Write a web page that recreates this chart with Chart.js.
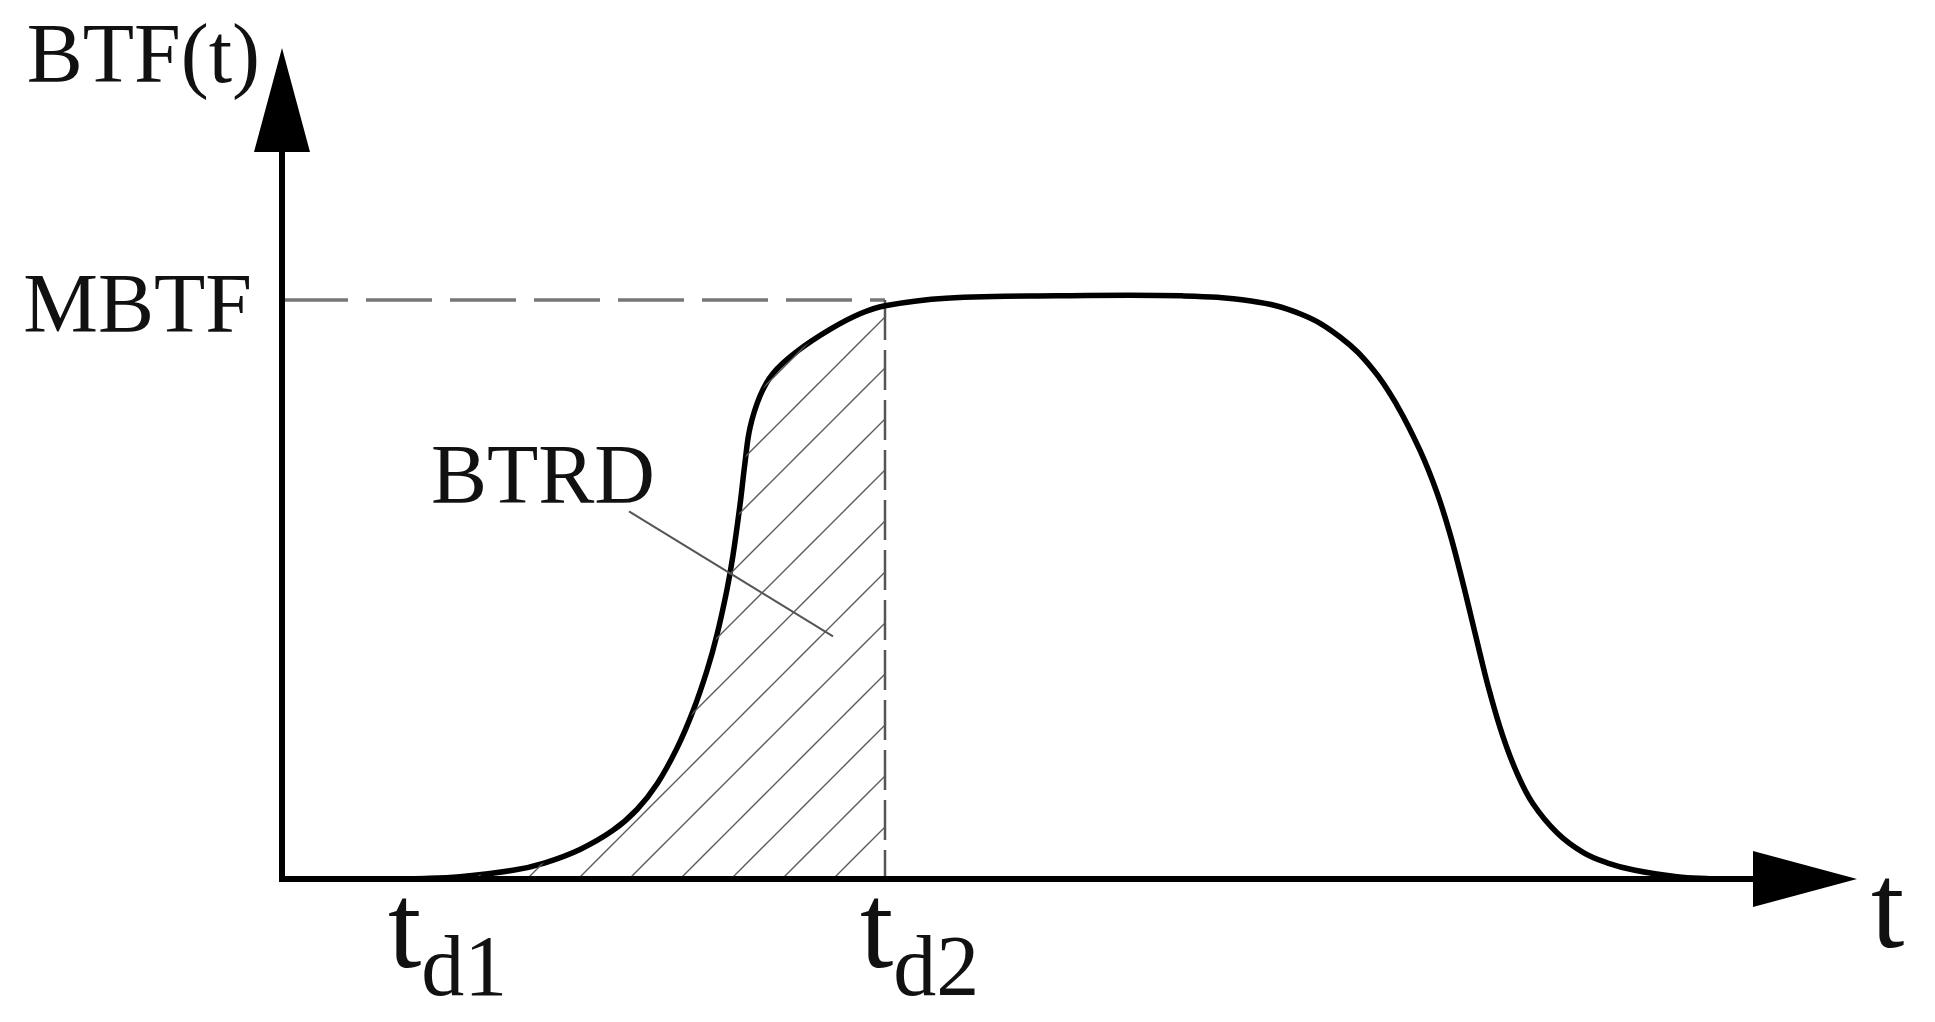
<!DOCTYPE html>
<html>
<head>
<meta charset="utf-8">
<script src="https://cdn.jsdelivr.net/npm/chart.js@4.4.1/dist/chart.umd.min.js"></script>
<style>
  html, body { margin: 0; padding: 0; background: #ffffff; }
</style>
</head>
<body>
<canvas id="btfChart" width="1935" height="1022"></canvas>
<script>
// Time axis in arbitrary units, BTF normalised so that MBTF = 1
const tValues = [1.30, 1.78, 2.31, 2.63, 2.98, 3.31, 3.55, 3.75, 3.95, 4.11, 4.25, 4.35, 4.45, 4.51, 4.58, 4.63, 4.68, 4.78, 4.91,
  5.15, 5.48, 5.78, 6.03, 6.64, 7.76, 9.00, 9.69, 10.18, 10.58, 10.91, 11.15, 11.38, 11.55, 11.68, 11.78, 11.88, 11.98,
  12.08, 12.21, 12.35, 12.51, 12.75, 13.01, 13.25, 13.53, 13.95, 14.30];
const btfValues = [0, 0.004, 0.015, 0.028, 0.051, 0.084, 0.120, 0.164, 0.226, 0.290, 0.360, 0.422, 0.500, 0.559, 0.646, 0.719, 0.779, 0.834, 0.873,
  0.911, 0.949, 0.976, 0.990, 1.003, 1.007, 1.007, 0.998, 0.976, 0.936, 0.880, 0.818, 0.740, 0.667, 0.596, 0.531, 0.461, 0.389,
  0.321, 0.246, 0.183, 0.130, 0.080, 0.046, 0.028, 0.015, 0.004, 0];

const MBTF = 1;
const td1 = 1.31;
const td2 = 6.03;
const tMax = 15.75;
const yMax = 1.435;

// "BTRD" callout (label anchor + leader line ends, in data units)
const btrdLabel = [1.49, 0.649];
const btrdLeaderFrom = [3.47, 0.635];
const btrdLeaderTo = [5.51, 0.419];

const curvePoints = tValues.map((t, i) => ({ x: t, y: btfValues[i] }));
const hatchPoints = curvePoints.filter((p) => p.x <= td2);

const SERIF = '"Liberation Serif", "Times New Roman", serif';

// 45 degree hatch used for the BTRD area
function makeHatch(ctx) {
  const size = 51;
  const c = document.createElement("canvas");
  c.width = size;
  c.height = size;
  const g = c.getContext("2d");
  g.strokeStyle = "#5a5a5a";
  g.lineWidth = 1.4;
  g.beginPath();
  g.moveTo(-3, size + 3);
  g.lineTo(size + 3, -3);
  g.moveTo(-3, 3);
  g.lineTo(3, -3);
  g.moveTo(size - 3, size + 3);
  g.lineTo(size + 3, size - 3);
  g.stroke();
  const p = ctx.createPattern(c, "repeat");
  p.setTransform(new DOMMatrix().translate(29, 0));
  return p;
}

// dashed guide lines, drawn under the curve
const guidePlugin = {
  id: "guides",
  beforeDatasetsDraw(chart) {
    const { ctx, scales: { x, y } } = chart;
    const x0 = x.getPixelForValue(0);
    const xd2 = x.getPixelForValue(td2);
    const yM = y.getPixelForValue(MBTF);
    const y0 = y.getPixelForValue(0);
    ctx.save();
    ctx.strokeStyle = "#777777";
    ctx.lineWidth = 3.5;
    ctx.setLineDash([66, 18]);
    ctx.beginPath();
    ctx.moveTo(x0, yM);
    ctx.lineTo(xd2, yM);
    ctx.stroke();
    ctx.strokeStyle = "#555555";
    ctx.lineWidth = 2.5;
    ctx.setLineDash([40, 10]);
    ctx.beginPath();
    ctx.moveTo(xd2, yM);
    ctx.lineTo(xd2, y0);
    ctx.stroke();
    ctx.restore();
  },
};

// axes with arrow heads and all labels
const axesPlugin = {
  id: "arrowAxes",
  afterDatasetsDraw(chart) {
    const { ctx, chartArea, scales: { x, y } } = chart;
    const x0 = x.getPixelForValue(0);
    const y0 = y.getPixelForValue(0);
    const xEnd = chartArea.right;
    const yEnd = chartArea.top;
    const head = 104;
    const half = 28;

    ctx.save();
    ctx.fillStyle = "#000";
    ctx.strokeStyle = "#000";
    ctx.lineWidth = 6;
    ctx.setLineDash([]);
    ctx.beginPath();
    ctx.moveTo(x0, y0 + 3);
    ctx.lineTo(x0, yEnd + head);
    ctx.moveTo(x0 - 3, y0);
    ctx.lineTo(xEnd - head, y0);
    ctx.stroke();

    ctx.beginPath();
    ctx.moveTo(x0, yEnd);
    ctx.lineTo(x0 - half, yEnd + head);
    ctx.lineTo(x0 + half, yEnd + head);
    ctx.closePath();
    ctx.fill();
    ctx.beginPath();
    ctx.moveTo(xEnd, y0);
    ctx.lineTo(xEnd - head, y0 - half);
    ctx.lineTo(xEnd - head, y0 + half);
    ctx.closePath();
    ctx.fill();

    // BTRD leader line
    ctx.strokeStyle = "#555";
    ctx.lineWidth = 2;
    ctx.beginPath();
    ctx.moveTo(x.getPixelForValue(btrdLeaderFrom[0]), y.getPixelForValue(btrdLeaderFrom[1]));
    ctx.lineTo(x.getPixelForValue(btrdLeaderTo[0]), y.getPixelForValue(btrdLeaderTo[1]));
    ctx.stroke();

    ctx.fillStyle = "#111";
    ctx.textBaseline = "alphabetic";
    ctx.font = "84px " + SERIF;
    ctx.textAlign = "right";
    ctx.fillText("BTF(t)", x0 - 22, yEnd + 34);
    ctx.fillText("MBTF", x0 - 30, y.getPixelForValue(MBTF) + 32);
    ctx.textAlign = "left";
    ctx.fillText("BTRD", x.getPixelForValue(btrdLabel[0]), y.getPixelForValue(btrdLabel[1]));

    // t with subscript under the axis
    function subLabel(sub, px) {
      ctx.font = "120px " + SERIF;
      ctx.fillText("t", px - 25, y0 + 88);
      const w = ctx.measureText("t").width;
      ctx.font = "86px " + SERIF;
      ctx.fillText(sub, px - 25 + w, y0 + 116);
    }
    subLabel("d1", x.getPixelForValue(td1));
    subLabel("d2", x.getPixelForValue(td2));

    ctx.font = "120px " + SERIF;
    ctx.fillText("t", xEnd + 14, y0 + 68);
    ctx.restore();
  },
};

const ctx = document.getElementById("btfChart").getContext("2d");

const btfChart = new Chart(ctx, {
  type: "line",
  data: {
    datasets: [
      {
        label: "BTRD",
        data: hatchPoints,
        borderWidth: 0,
        pointRadius: 0,
        fill: "origin",
        backgroundColor: makeHatch(ctx),
        tension: 0.4,
      },
      {
        label: "BTF(t)",
        data: curvePoints,
        borderColor: "#000",
        borderWidth: 5.5,
        pointRadius: 0,
        fill: false,
        tension: 0.4,
      },
    ],
  },
  options: {
    responsive: false,
    animation: false,
    layout: {
      padding: { left: 282, right: 78, top: 48, bottom: 143 },
    },
    plugins: {
      legend: { display: false },
      tooltip: { enabled: false },
    },
    scales: {
      x: { type: "linear", min: 0, max: tMax, display: false },
      y: { type: "linear", min: 0, max: yMax, display: false },
    },
  },
  plugins: [guidePlugin, axesPlugin],
});
</script>
</body>
</html>
